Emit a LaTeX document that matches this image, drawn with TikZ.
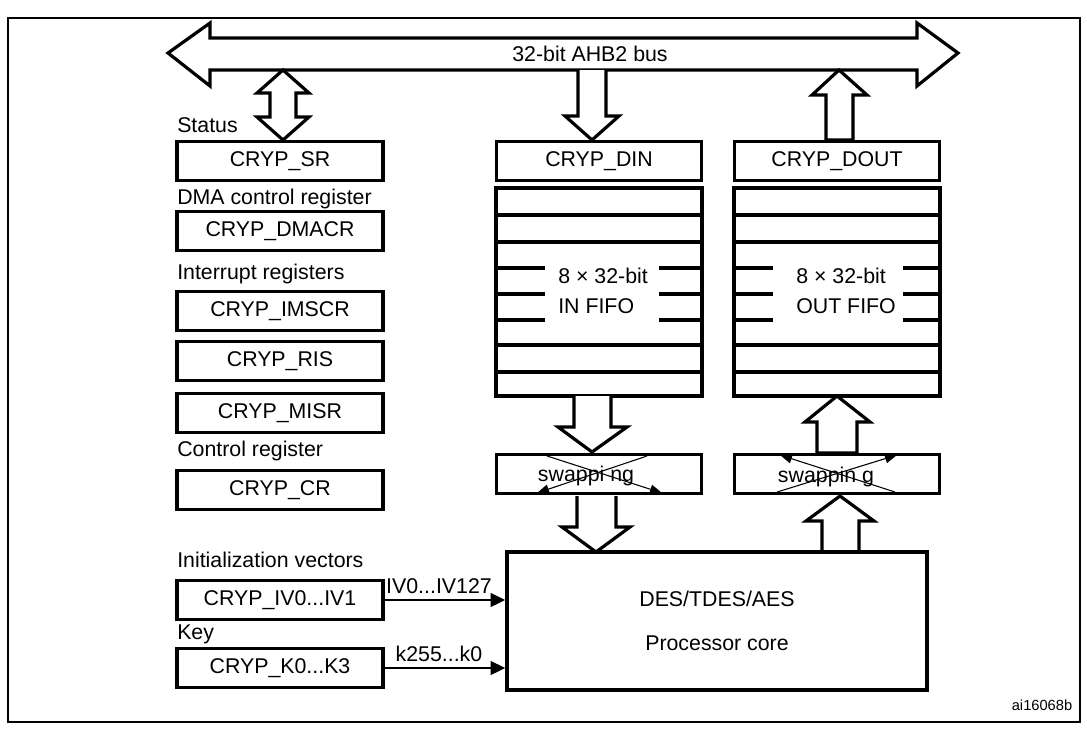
\documentclass[tikz,border=0pt]{standalone}
\usepackage{fontspec}
\setmainfont{Liberation Sans}
\usetikzlibrary{arrows.meta}
\begin{document}
\begin{tikzpicture}[x=0.75pt,y=-0.75pt,
  box/.style={draw,line width=2.4pt,inner sep=0pt,font=\fontsize{16}{19}\selectfont},
  reg/.style={box,minimum width=206*0.75pt,minimum height=39*0.75pt},
  wide/.style={box,minimum width=205*0.75pt,minimum height=39*0.75pt},
  lbl/.style={anchor=west,inner sep=0pt,font=\fontsize{16}{19}\selectfont},
  txt/.style={inner sep=0pt,font=\fontsize{16}{19}\selectfont},
  blk/.style={draw,line width=2.4pt,fill=white,line join=miter},
  row/.style={line width=2.4pt},
  thin/.style={line width=0.8pt,-{Triangle[length=9pt,width=7pt]}},
  sig/.style={line width=2pt,-{Triangle[length=11pt,width=10pt]}}]
\useasboundingbox (0,0) rectangle (1087,728);
\draw[line width=1.2pt] (8,18) rectangle (1080,722);
% bus
\draw[blk] (168,53) -- (210,23) -- (210,38) -- (917,38) -- (917,23) -- (958,53) -- (917,86) -- (917,70) -- (210,70) -- (210,86) -- cycle;
\node[txt] (bus) at (590,54) {32-bit AHB2 bus};
% left registers
\node[lbl] (lst) at (177,125) {Status};
\node[reg] (sr) at (280,161) {CRYP\_SR};
\node[lbl] (ldma) at (177,199) {DMA control register};
\node[reg] (dmacr) at (280,231) {CRYP\_DMACR};
\node[lbl] (lint) at (177,274) {Interrupt registers};
\node[reg] (imscr) at (280,311) {CRYP\_IMSCR};
\node[reg] (ris) at (280,361) {CRYP\_RIS};
\node[reg] (misr) at (280,413) {CRYP\_MISR};
\node[lbl] (lcr) at (177,451) {Control register};
\node[reg] (cr) at (280,490) {CRYP\_CR};
\node[lbl] (liv) at (177,560) {Initialization vectors};
\node[reg] (iv) at (280,600) {CRYP\_IV0...IV1};
\node[lbl] (lkey) at (177,634) {Key};
\node[reg] (k) at (280,668) {CRYP\_K0...K3};
% status double arrow
\draw[blk] (283,70) -- (309,93) -- (296,93) -- (296,117) -- (309,117) -- (283,140) -- (257,117) -- (270,117) -- (270,93) -- (257,93) -- cycle;
% DIN / DOUT
\node[wide] (din) at (599,161) {CRYP\_DIN};
\node[wide] (dout) at (837,161) {CRYP\_DOUT};
\draw[blk] (578,70) -- (578,116) -- (565,116) -- (592,140) -- (619,116) -- (606,116) -- (606,70);
\draw[blk] (839,70) -- (867,95) -- (853,95) -- (853,140) -- (826,140) -- (826,95) -- (812,95) -- cycle;
% FIFOs
\draw[row] (496,188) rectangle (702,396);
\draw[row] (734,188) rectangle (940,396);
\foreach \y in {215,242,345,372} {
  \draw[row] (496,\y) -- (702,\y);
  \draw[row] (734,\y) -- (940,\y);
}
\foreach \y in {268,294,320} {
  \draw[row] (496,\y) -- (545,\y); \draw[row] (659,\y) -- (702,\y);
  \draw[row] (734,\y) -- (773,\y); \draw[row] (903,\y) -- (940,\y);
}
\node[txt,align=left,anchor=west] (inf) at (558,291) {8 × 32-bit\\[4pt]IN FIFO};
\node[txt,align=left,anchor=west] (outf) at (796,291) {8 × 32-bit\\[4pt]OUT FIFO};
% swapping
\node[wide] (swl) at (599,474) {};
\node[wide] (swr) at (837,474) {};
\node[txt] (swlt) at (586,476) {swappi ng};
\node[txt] (swrt) at (826,477) {swappin g};
\draw[thin] (547,456) -- (662,493);
\draw[thin] (647,456) -- (537,493);
\draw[thin] (895,492) -- (780,455);
\draw[thin] (777,492) -- (897,455);
% vertical block arrows
\draw[blk] (574,396) -- (574,427) -- (558,427) -- (592,452) -- (627,427) -- (611,427) -- (611,396);
\draw[blk] (577,496) -- (577,527) -- (562,527) -- (596,552) -- (630,527) -- (616,527) -- (616,496);
\draw[blk] (837,396) -- (870,422) -- (857,422) -- (857,453) -- (817,453) -- (817,422) -- (805,422) -- cycle;
\draw[blk] (840,496) -- (874,521) -- (859,521) -- (859,552) -- (822,552) -- (822,521) -- (806,521) -- cycle;
% core
\node[box,minimum width=420*0.75pt,minimum height=138*0.75pt,align=center] (core) at (717,621) {DES/TDES/AES\\[14pt]Processor core};
\draw[sig] (iv.east) -- (core.west |- iv.east) node[pos=0.45,above=4pt,txt] {IV0...IV127};
\draw[sig] (k.east) -- (core.west |- k.east) node[pos=0.45,above=4pt,txt] {k255...k0};
\node[txt,font=\fontsize{11}{13}\selectfont] (ref) at (1042,705) {ai16068b};
\end{tikzpicture}
\end{document}
